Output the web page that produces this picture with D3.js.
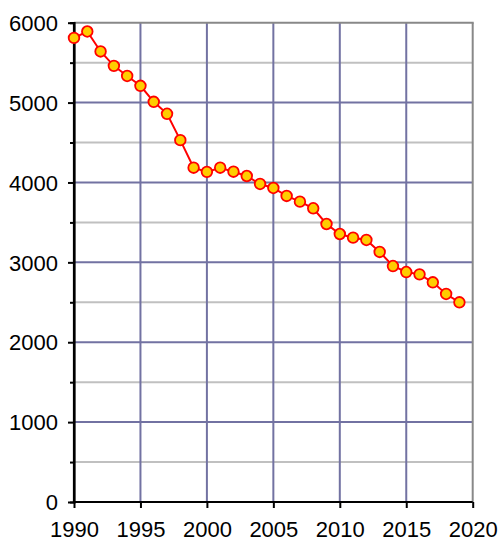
<!DOCTYPE html>
<html><head><meta charset="utf-8">
<script src="https://cdn.jsdelivr.net/npm/d3@7"></script>
<style>html,body{margin:0;padding:0;background:#fff;}svg{display:block;}</style>
</head><body>
<svg id="c" width="498" height="542"></svg>
<script>
const years = [1990,1991,1992,1993,1994,1995,1996,1997,1998,1999,2000,2001,2002,2003,2004,2005,2006,2007,2008,2009,2010,2011,2012,2013,2014,2015,2016,2017,2018,2019];
const values = [5810,5890,5640,5460,5333,5210,5010,4860,4530,4185,4133,4185,4135,4081,3981,3931,3831,3760,3677,3480,3355,3309,3280,3130,2954,2879,2850,2750,2604,2500];
const xTicks = [1990,1995,2000,2005,2010,2015,2020];
const yTicks = [0,1000,2000,3000,4000,5000,6000];
const yMinor = [500,1500,2500,3500,4500,5500];

const svg = d3.select("#c");
const x = d3.scaleLinear().domain([1990,2020]).range([74,472.7]);
const y = d3.scaleLinear().domain([0,6000]).range([502,22.7]);
const font = "'Liberation Sans', Arial, sans-serif";

// minor grid
svg.append("g").selectAll("line").data(yMinor).join("line")
  .attr("x1",x(1990)).attr("x2",x(2020)).attr("y1",d=>y(d)).attr("y2",d=>y(d))
  .attr("stroke","#c0c0c0").attr("stroke-width",2);
// major grid horizontal
svg.append("g").selectAll("line").data(yTicks.filter(d=>d>0&&d<6000)).join("line")
  .attr("x1",x(1990)).attr("x2",x(2020)).attr("y1",d=>y(d)).attr("y2",d=>y(d))
  .attr("stroke","#7272a2").attr("stroke-width",2);
// major grid vertical
svg.append("g").selectAll("line").data(xTicks.filter(d=>d>1990&&d<2020)).join("line")
  .attr("x1",d=>x(d)).attr("x2",d=>x(d)).attr("y1",y(0)).attr("y2",y(6000))
  .attr("stroke","#7272a2").attr("stroke-width",2);
// top & right borders
svg.append("line").attr("x1",x(1990)).attr("x2",x(2020)+1).attr("y1",y(6000)).attr("y2",y(6000))
  .attr("stroke","#888").attr("stroke-width",2);
svg.append("line").attr("x1",x(2020)).attr("x2",x(2020)).attr("y1",y(6000)).attr("y2",y(0))
  .attr("stroke","#888").attr("stroke-width",2);

// axes
const yAxis = svg.append("g").attr("transform",`translate(${x(1990)},0)`)
  .call(d3.axisLeft(y).tickValues(yTicks).tickSize(6).tickFormat(d3.format("d")));
const yAxisMinor = svg.append("g").attr("transform",`translate(${x(1990)},0)`)
  .call(d3.axisLeft(y).tickValues(yMinor).tickSize(4).tickFormat(""));
const xAxis = svg.append("g").attr("transform",`translate(0,${y(0)})`)
  .call(d3.axisBottom(x).tickValues(xTicks).tickSize(6).tickFormat(d3.format("d")));
[yAxis,yAxisMinor,xAxis].forEach(g=>{
  g.attr("font-family",null).attr("font-size",null);
  g.select(".domain").attr("stroke","#000").attr("stroke-width",2.2);
  g.selectAll(".tick line").attr("stroke","#000").attr("stroke-width",2);
  g.selectAll("text").attr("fill","#000").style("font-family",font).style("font-size","22px");
});
yAxis.select(".domain").attr("d",`M0,${y(6000)}V${y(0)}`);
xAxis.select(".domain").attr("d",`M${x(1990)},0H${x(2020)}`);
yAxis.selectAll("text").attr("x",-16).attr("dy","0.35em");
xAxis.selectAll("text").attr("y",35).attr("dy",0);

// line
svg.append("path").datum(years.map((d,i)=>[d,values[i]]))
  .attr("fill","none").attr("stroke","#ff0000").attr("stroke-width",2)
  .attr("d",d3.line().x(d=>x(d[0])).y(d=>y(d[1])));
// markers
svg.append("g").selectAll("circle").data(years.map((d,i)=>[d,values[i]])).join("circle")
  .attr("cx",d=>x(d[0])).attr("cy",d=>y(d[1])).attr("r",5.3)
  .attr("fill","#ffcc00").attr("stroke","#ff0000").attr("stroke-width",1.8);
</script>
</body></html>
